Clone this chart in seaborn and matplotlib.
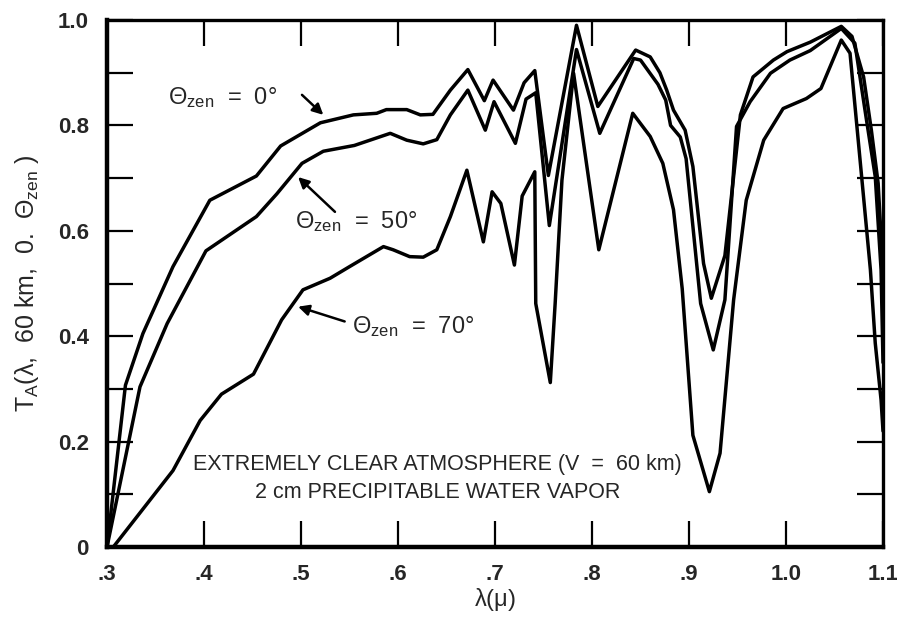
import matplotlib
matplotlib.use("Agg")
import matplotlib.pyplot as plt
import seaborn as sns
import pandas as pd
import numpy as np

# ---- data (wavelength in micron, transmittance) ----
x_zen0 = [0.300, 0.319, 0.337, 0.368, 0.406, 0.454, 0.479, 0.520, 0.554, 0.578,
          0.588, 0.609, 0.623, 0.636, 0.654, 0.672, 0.689, 0.698, 0.719, 0.730,
          0.741, 0.755, 0.784, 0.806, 0.845, 0.860, 0.870, 0.877, 0.884, 0.896,
          0.904, 0.915, 0.923, 0.937, 0.953, 0.966, 0.987, 1.001, 1.025, 1.057,
          1.068, 1.080, 1.088, 1.095, 1.098, 1.100]
y_zen0 = [0.000, 0.307, 0.405, 0.532, 0.658, 0.704, 0.761, 0.805, 0.820, 0.823,
          0.830, 0.830, 0.820, 0.821, 0.867, 0.906, 0.847, 0.886, 0.829, 0.881,
          0.904, 0.705, 0.990, 0.836, 0.943, 0.930, 0.900, 0.867, 0.829, 0.791,
          0.722, 0.538, 0.472, 0.553, 0.820, 0.892, 0.924, 0.940, 0.958, 0.988,
          0.969, 0.892, 0.791, 0.690, 0.589, 0.450]

x_zen50 = [0.300, 0.334, 0.362, 0.402, 0.454, 0.475, 0.501, 0.523, 0.555, 0.592,
           0.609, 0.626, 0.640, 0.654, 0.672, 0.690, 0.699, 0.721, 0.732, 0.742,
           0.756, 0.784, 0.808, 0.843, 0.850, 0.868, 0.876, 0.881, 0.891, 0.897,
           0.912, 0.925, 0.937, 0.949, 0.963, 0.984, 1.004, 1.025, 1.057, 1.071,
           1.083, 1.092, 1.098, 1.100]
y_zen50 = [0.000, 0.304, 0.424, 0.562, 0.627, 0.670, 0.728, 0.751, 0.762, 0.785,
           0.772, 0.765, 0.773, 0.820, 0.867, 0.791, 0.845, 0.766, 0.850, 0.862,
           0.610, 0.944, 0.785, 0.927, 0.924, 0.878, 0.848, 0.800, 0.778, 0.737,
           0.462, 0.374, 0.469, 0.798, 0.845, 0.899, 0.924, 0.942, 0.984, 0.956,
           0.810, 0.703, 0.526, 0.350]

x_zen70 = [0.3065, 0.368, 0.396, 0.418, 0.451, 0.471, 0.480, 0.502, 0.530, 0.550,
           0.585, 0.595, 0.612, 0.626, 0.640, 0.654, 0.671, 0.688, 0.697, 0.706,
           0.720, 0.728, 0.741, 0.742, 0.757, 0.762, 0.769, 0.781, 0.807, 0.842,
           0.860, 0.873, 0.884, 0.893, 0.904, 0.921, 0.932, 0.946, 0.959, 0.977,
           0.997, 1.021, 1.036, 1.057, 1.066, 1.087, 1.092, 1.098, 1.100]
y_zen70 = [0.000, 0.145, 0.240, 0.290, 0.328, 0.399, 0.431, 0.488, 0.510, 0.532,
           0.570, 0.564, 0.551, 0.550, 0.564, 0.627, 0.715, 0.579, 0.674, 0.652,
           0.535, 0.666, 0.712, 0.462, 0.312, 0.462, 0.696, 0.899, 0.564, 0.823,
           0.779, 0.728, 0.640, 0.490, 0.212, 0.105, 0.178, 0.469, 0.658, 0.772,
           0.832, 0.851, 0.870, 0.962, 0.937, 0.526, 0.387, 0.279, 0.220]

x_ticks = [0.3, 0.4, 0.5, 0.6, 0.7, 0.8, 0.9, 1.0, 1.1]
x_ticklabels = [".3", ".4", ".5", ".6", ".7", ".8", ".9", "1.0", "1.1"]
y_ticks = [0.0, 0.2, 0.4, 0.6, 0.8, 1.0]
y_ticklabels = ["0", "0.2", "0.4", "0.6", "0.8", "1.0"]
y_minor = [0.1, 0.3, 0.5, 0.7, 0.9]

sns.set_style("ticks")
plt.rcParams['font.family'] = ['Liberation Sans', 'DejaVu Sans']
plt.rcParams['mathtext.fontset'] = 'custom'
plt.rcParams['mathtext.rm'] = 'Liberation Sans'
plt.rcParams['mathtext.it'] = 'Liberation Sans'
plt.rcParams['mathtext.sf'] = 'Liberation Sans'

df = pd.concat([
    pd.DataFrame({"wl": x_zen0, "T": y_zen0, "zen": "0"}),
    pd.DataFrame({"wl": x_zen50, "T": y_zen50, "zen": "50"}),
    pd.DataFrame({"wl": x_zen70, "T": y_zen70, "zen": "70"}),
], ignore_index=True)

fig = plt.figure(figsize=(8.97, 6.22), dpi=100)
ax = fig.add_axes([0.1193, 0.1206, 0.8651, 0.8472])

for z in ["0", "50", "70"]:
    sub = df[df["zen"] == z]
    sns.lineplot(data=sub, x="wl", y="T", ax=ax, color="black", lw=2.5,
                 sort=False, estimator=None, legend=False)

ax.set_xlim(0.3, 1.1)
ax.set_ylim(0.0, 1.0)
ax.set_xticks(x_ticks)
ax.set_xticklabels(x_ticklabels, fontweight="bold")
ax.set_yticks(y_ticks)
ax.set_yticklabels(y_ticklabels, fontweight="bold")
ax.set_yticks(y_minor, minor=True)

ax.tick_params(axis="both", which="both", direction="in", length=19, width=1.6,
               top=True, right=True, labelsize=16, color="black")
ax.tick_params(axis="x", which="both", pad=12)
ax.tick_params(axis="y", which="both", pad=13)
for side, w in [("left", 3.2), ("bottom", 3.2), ("top", 2.4), ("right", 2.4)]:
    ax.spines[side].set_visible(True)
    ax.spines[side].set_linewidth(w)
    ax.spines[side].set_color("black")

ax.set_xlabel(r"$\lambda$($\mu$)", fontsize=17, labelpad=1)
ax.set_ylabel(r"T$_{\mathrm{A}}$($\lambda$,  60 km,  0.  $\Theta_{\mathrm{zen}}$ )",
              fontsize=18, labelpad=12)

# curve labels
ax.text(0.363, 0.853, r"$\Theta_{\mathrm{zen}}$  =  0°", fontsize=17, va="center", ha="left")
ax.text(0.494, 0.618, r"$\Theta_{\mathrm{zen}}$  =  50°", fontsize=17, va="center", ha="left")
ax.text(0.553, 0.419, r"$\Theta_{\mathrm{zen}}$  =  70°", fontsize=17, va="center", ha="left")

arrow_kw = dict(arrowstyle="-|>", color="black", lw=1.8, shrinkA=0, shrinkB=0,
                mutation_scale=16)
ax.annotate("", xy=(0.523, 0.820), xytext=(0.501, 0.858), arrowprops=arrow_kw)
ax.annotate("", xy=(0.497, 0.702), xytext=(0.535, 0.636), arrowprops=arrow_kw)
ax.annotate("", xy=(0.497, 0.456), xytext=(0.545, 0.428), arrowprops=arrow_kw)

ax.text(0.641, 0.156, "EXTREMELY CLEAR ATMOSPHERE (V  =  60 km)", fontsize=15.5,
        ha="center", va="center")
ax.text(0.641, 0.104, "2 cm PRECIPITABLE WATER VAPOR", fontsize=15.5,
        ha="center", va="center")

fig.savefig("out.png", dpi=100, facecolor="white")
